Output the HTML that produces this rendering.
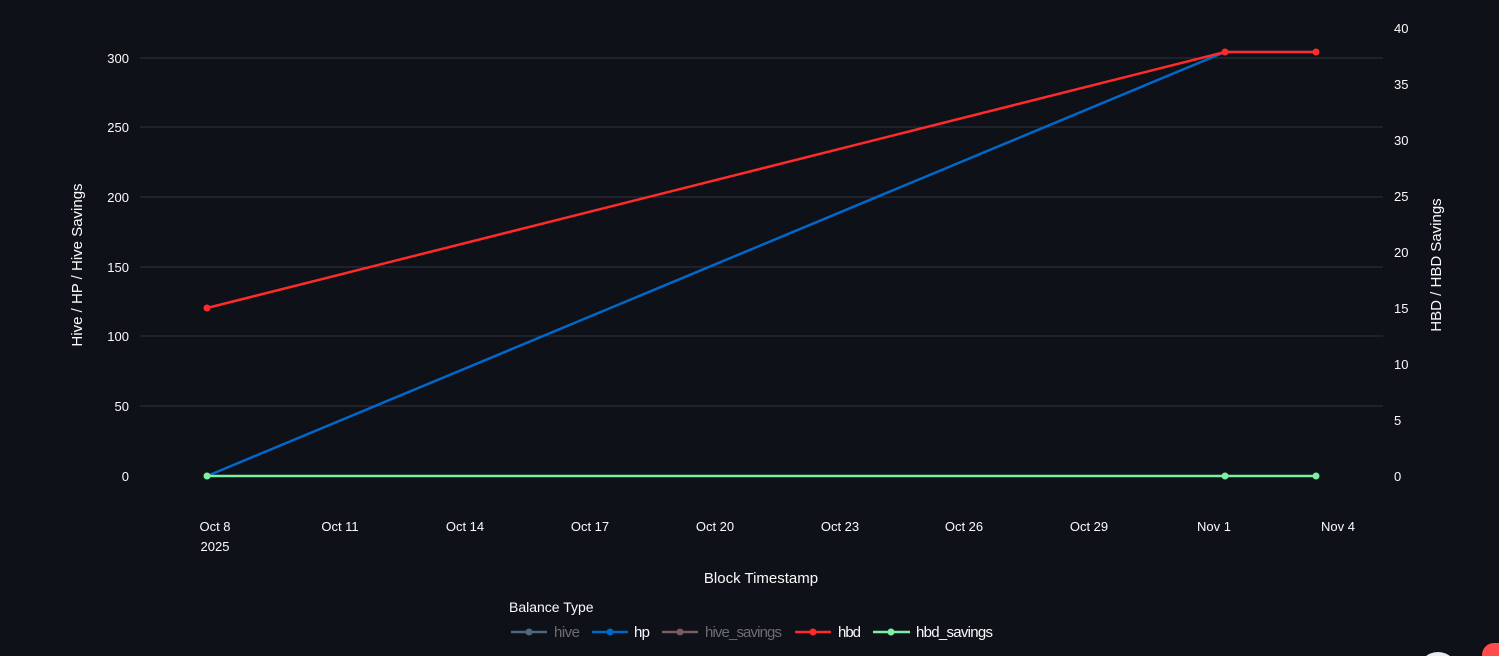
<!DOCTYPE html>
<html><head><meta charset="utf-8"><style>
html,body{margin:0;padding:0;background:#0e1117;width:1499px;height:656px;overflow:hidden}
svg{display:block}
text{font-family:"Liberation Sans","DejaVu Sans",sans-serif;fill:#fafafa}
</style></head><body>
<svg width="1499" height="656" xmlns="http://www.w3.org/2000/svg">
<rect width="1499" height="656" fill="#0e1117"/>
<g stroke="#31333f" stroke-width="1">
<line x1="140" x2="1383" y1="58" y2="58"/><line x1="140" x2="1383" y1="127" y2="127"/>
<line x1="140" x2="1383" y1="197" y2="197"/><line x1="140" x2="1383" y1="267" y2="267"/>
<line x1="140" x2="1383" y1="336" y2="336"/><line x1="140" x2="1383" y1="406" y2="406"/>
</g>
<g font-size="13" text-anchor="end">
<text x="129" y="481">0</text><text x="129" y="411">50</text><text x="129" y="341">100</text>
<text x="129" y="272">150</text><text x="129" y="202">200</text><text x="129" y="132">250</text><text x="129" y="63">300</text>
</g>
<g font-size="13" text-anchor="start">
<text x="1394" y="481">0</text><text x="1394" y="425">5</text><text x="1394" y="369">10</text>
<text x="1394" y="313">15</text><text x="1394" y="257">20</text><text x="1394" y="201">25</text>
<text x="1394" y="145">30</text><text x="1394" y="89">35</text><text x="1394" y="33">40</text>
</g>
<g font-size="13" text-anchor="middle">
<text x="215" y="531">Oct 8</text><text x="215" y="551">2025</text>
<text x="340" y="531">Oct 11</text><text x="465" y="531">Oct 14</text><text x="590" y="531">Oct 17</text>
<text x="715" y="531">Oct 20</text><text x="840" y="531">Oct 23</text><text x="964" y="531">Oct 26</text>
<text x="1089" y="531">Oct 29</text><text x="1214" y="531">Nov 1</text><text x="1338" y="531">Nov 4</text>
</g>
<text x="761" y="583" font-size="15" text-anchor="middle">Block Timestamp</text>
<text transform="translate(82,265) rotate(-90)" font-size="15" text-anchor="middle">Hive / HP / Hive Savings</text>
<text transform="translate(1441,265) rotate(-90)" font-size="15" text-anchor="middle">HBD / HBD Savings</text>
<polyline points="207,476 1225,52 1316,52" fill="none" stroke="#0068c9" stroke-width="2.5"/>
<polyline points="207,308 1225,52 1316,52" fill="none" stroke="#ff2b2b" stroke-width="2.5"/>
<circle cx="207" cy="308" r="3.5" fill="#ff2b2b"/><circle cx="1225" cy="52" r="3.5" fill="#ff2b2b"/><circle cx="1316" cy="52" r="3.5" fill="#ff2b2b"/>
<line x1="207" x2="1316" y1="476" y2="476" stroke="#7defa1" stroke-width="2.5"/>
<circle cx="207" cy="476" r="3.5" fill="#7defa1"/><circle cx="1225" cy="476" r="3.5" fill="#7defa1"/><circle cx="1316" cy="476" r="3.5" fill="#7defa1"/>
<text x="509" y="612" font-size="14">Balance Type</text>
<g stroke-width="2.5">
<line x1="511" x2="547" y1="632" y2="632" stroke="#4e6780"/><circle cx="529" cy="632" r="3.5" fill="#4e6780"/>
<line x1="592" x2="628" y1="632" y2="632" stroke="#0068c9"/><circle cx="610" cy="632" r="3.5" fill="#0068c9"/>
<line x1="662" x2="698" y1="632" y2="632" stroke="#7a5c5e"/><circle cx="680" cy="632" r="3.5" fill="#7a5c5e"/>
<line x1="795" x2="831" y1="632" y2="632" stroke="#ff2b2b"/><circle cx="813" cy="632" r="3.5" fill="#ff2b2b"/>
<line x1="873" x2="910" y1="632" y2="632" stroke="#7defa1"/><circle cx="891" cy="632" r="3.5" fill="#7defa1"/>
</g>
<g font-size="15">
<text x="554" y="637" style="fill:#6b6d73" textLength="26">hive</text>
<text x="634" y="637" textLength="16">hp</text>
<text x="705" y="637" style="fill:#6b6d73" textLength="77">hive_savings</text>
<text x="838" y="637" textLength="23">hbd</text>
<text x="916" y="637" textLength="77">hbd_savings</text>
</g>
<circle cx="1438" cy="672" r="20" fill="#e8eaf2"/>
<rect x="1482" y="643" width="30" height="30" rx="12" fill="#ff4b4b"/>
</svg>
</body></html>
